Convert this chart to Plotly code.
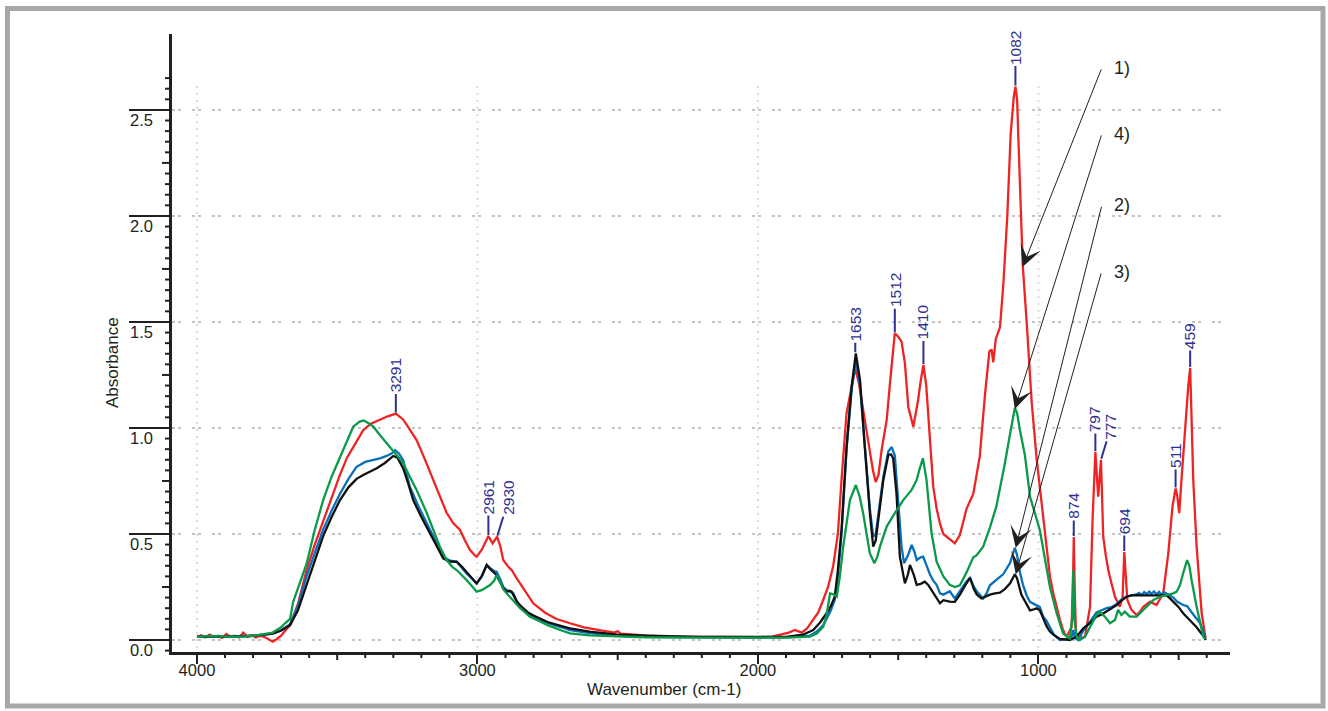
import plotly.graph_objects as go

# ---------------- data ----------------
red_wn = [4000, 3985, 3970, 3955, 3940, 3925, 3910, 3895, 3880, 3865, 3850, 3835, 3820, 3805, 3790,
          3775, 3760, 3745, 3730, 3715, 3700, 3685, 3668, 3640, 3609, 3580, 3550, 3520, 3490, 3465,
          3443, 3420, 3407, 3380, 3348, 3320, 3291, 3265, 3240, 3217, 3190, 3158, 3130, 3110, 3086,
          3062, 3045, 3027, 3010, 3003, 2985, 2970, 2961, 2946, 2930, 2918, 2908, 2890, 2878, 2860,
          2848, 2825, 2801, 2760, 2720, 2670, 2620, 2560, 2510, 2500, 2490, 2440, 2400, 2300, 2200,
          2100, 2000, 1950, 1922, 1890, 1868, 1844, 1825, 1803, 1785, 1767, 1750, 1732, 1715, 1702,
          1684, 1666, 1653, 1640, 1630, 1615, 1600, 1590, 1580, 1570, 1559, 1541, 1530, 1520, 1512,
          1500, 1488, 1476, 1464, 1446, 1429, 1420, 1410, 1400, 1393, 1387, 1375, 1363, 1351, 1339,
          1316, 1298, 1280, 1256, 1232, 1209, 1191, 1175, 1167, 1161, 1152, 1137, 1125, 1111, 1099,
          1088, 1082, 1076, 1072, 1063, 1056, 1042, 1024, 1006, 995, 983, 971, 959, 947, 935,
          923, 914, 905, 896, 888, 882, 877, 874, 870, 866, 852, 834, 816, 807, 797,
          787, 777, 769, 760, 751, 740, 727, 710, 700, 694, 688, 683, 668, 650, 640,
          626, 602, 579, 555, 537, 522, 511, 505, 498, 490, 478, 466, 459, 453, 448,
          436, 418, 404]
red_abs = [0.015, 0.022, 0.012, 0.025, 0.015, 0.020, 0.010, 0.028, 0.014, 0.020, 0.012, 0.035, 0.015, 0.022, 0.012,
           0.020, 0.015, 0.002, -0.008, 0.005, 0.020, 0.045, 0.070, 0.170, 0.330, 0.450, 0.560, 0.670, 0.780, 0.860,
           0.912, 0.960, 0.990, 1.020, 1.040, 1.055, 1.068, 1.040, 0.990, 0.943, 0.860, 0.755, 0.660, 0.600, 0.550,
           0.519, 0.470, 0.425, 0.400, 0.393, 0.425, 0.470, 0.490, 0.456, 0.487, 0.440, 0.377, 0.345, 0.330, 0.290,
           0.267, 0.220, 0.173, 0.130, 0.100, 0.079, 0.060, 0.045, 0.035, 0.042, 0.030, 0.025, 0.020, 0.016, 0.014,
           0.013, 0.013, 0.016, 0.024, 0.035, 0.047, 0.035, 0.055, 0.094, 0.130, 0.190, 0.250, 0.346, 0.500, 0.755,
           1.070, 1.195, 1.280, 1.210, 1.130, 1.000, 0.880, 0.800, 0.745, 0.780, 0.896, 1.038, 1.200, 1.350, 1.447,
           1.430, 1.407, 1.305, 1.100, 1.006, 1.132, 1.220, 1.297, 1.200, 1.070, 0.940, 0.723, 0.620, 0.550, 0.500,
           0.475, 0.456, 0.495, 0.620, 0.690, 0.867, 1.150, 1.360, 1.370, 1.310, 1.420, 1.476, 1.680, 2.000, 2.385,
           2.560, 2.610, 2.550, 2.385, 2.030, 1.770, 1.500, 1.120, 0.850, 0.720, 0.560, 0.410, 0.300, 0.220, 0.150,
           0.094, 0.055, 0.024, 0.025, 0.050, 0.060, 0.250, 0.486, 0.200, 0.033, 0.008, 0.016, 0.157, 0.566, 0.887,
           0.676, 0.850, 0.487, 0.400, 0.330, 0.270, 0.204, 0.157, 0.200, 0.415, 0.300, 0.189, 0.142, 0.118, 0.130,
           0.157, 0.181, 0.165, 0.220, 0.409, 0.630, 0.715, 0.680, 0.598, 0.755, 0.990, 1.195, 1.283, 0.990, 0.755,
           0.440, 0.126, 0.008]

blue_wn = [4000, 3950, 3900, 3850, 3800, 3760, 3730, 3700, 3668, 3640, 3609, 3580, 3550, 3520, 3490,
           3460, 3431, 3400, 3371, 3345, 3324, 3305, 3294, 3280, 3265, 3241, 3210, 3181, 3150, 3122,
           3100, 3074, 3055, 3039, 3020, 3003, 2985, 2967, 2955, 2940, 2932, 2920, 2908, 2896, 2880,
           2872, 2855, 2837, 2800, 2750, 2700, 2670, 2600, 2500, 2400, 2200, 2000, 1900, 1815, 1790,
           1767, 1755, 1740, 1726, 1715, 1702, 1684, 1666, 1651, 1636, 1619, 1601, 1589, 1580, 1571,
           1553, 1535, 1523, 1512, 1506, 1494, 1488, 1479, 1465, 1452, 1443, 1434, 1420, 1411, 1400,
           1387, 1375, 1363, 1351, 1339, 1316, 1298, 1280, 1260, 1244, 1230, 1220, 1197, 1185, 1173,
           1149, 1125, 1101, 1090, 1084, 1076, 1066, 1055, 1042, 1030, 1015, 1006, 995, 983, 971,
           959, 947, 935, 923, 905, 890, 882, 876, 870, 858, 840, 816, 793, 775, 757,
           740, 721, 705, 686, 668, 650, 641, 632, 623, 614, 605, 597, 588, 579, 570,
           561, 552, 543, 530, 519, 505, 495, 484, 470, 460, 448, 436, 424, 412, 404]
blue_abs = [0.015, 0.018, 0.015, 0.017, 0.020, 0.025, 0.030, 0.045, 0.075, 0.160, 0.300, 0.410, 0.520, 0.610, 0.690,
            0.760, 0.817, 0.840, 0.849, 0.858, 0.868, 0.880, 0.896, 0.880, 0.849, 0.723, 0.630, 0.550, 0.470, 0.393,
            0.375, 0.369, 0.340, 0.314, 0.290, 0.267, 0.300, 0.354, 0.340, 0.325, 0.322, 0.290, 0.250, 0.236, 0.225,
            0.220, 0.170, 0.142, 0.110, 0.080, 0.060, 0.047, 0.032, 0.020, 0.015, 0.012, 0.011, 0.012, 0.020, 0.040,
            0.070, 0.100, 0.140, 0.190, 0.300, 0.500, 0.900, 1.180, 1.320, 1.200, 0.900, 0.620, 0.487, 0.500, 0.590,
            0.770, 0.890, 0.910, 0.870, 0.750, 0.550, 0.440, 0.362, 0.400, 0.448, 0.420, 0.377, 0.390, 0.393, 0.350,
            0.310, 0.280, 0.260, 0.220, 0.214, 0.230, 0.196, 0.230, 0.270, 0.293, 0.250, 0.230, 0.196, 0.220, 0.258,
            0.285, 0.311, 0.364, 0.410, 0.435, 0.400, 0.320, 0.260, 0.210, 0.180, 0.170, 0.165, 0.155, 0.110, 0.090,
            0.060, 0.030, 0.012, 0.000, 0.003, 0.010, 0.016, 0.047, 0.010, 0.000, 0.045, 0.087, 0.130, 0.140, 0.150,
            0.155, 0.170, 0.190, 0.205, 0.210, 0.215, 0.222, 0.212, 0.226, 0.216, 0.228, 0.218, 0.229, 0.215, 0.227,
            0.214, 0.226, 0.218, 0.210, 0.200, 0.180, 0.172, 0.165, 0.160, 0.140, 0.120, 0.100, 0.080, 0.040, 0.000]

black_wn = [4000, 3950, 3900, 3850, 3800, 3760, 3730, 3700, 3668, 3640, 3609, 3580, 3550, 3520, 3490,
            3460, 3431, 3407, 3380, 3359, 3330, 3310, 3300, 3285, 3265, 3245, 3229, 3200, 3169, 3140,
            3122, 3100, 3074, 3055, 3039, 3020, 3003, 2985, 2967, 2955, 2940, 2935, 2920, 2908, 2896,
            2885, 2878, 2860, 2845, 2820, 2800, 2750, 2700, 2670, 2600, 2500, 2400, 2200, 2000, 1900,
            1840, 1803, 1780, 1755, 1740, 1726, 1715, 1702, 1684, 1666, 1651, 1636, 1619, 1601, 1589,
            1580, 1571, 1553, 1535, 1525, 1518, 1506, 1494, 1476, 1465, 1458, 1445, 1434, 1420, 1405,
            1393, 1381, 1363, 1351, 1339, 1316, 1298, 1280, 1260, 1244, 1230, 1220, 1203, 1190, 1173,
            1155, 1137, 1120, 1101, 1084, 1076, 1061, 1042, 1030, 1015, 1006, 995, 983, 971, 959,
            947, 923, 888, 864, 840, 816, 793, 775, 757, 740, 721, 705, 686, 668, 650,
            632, 614, 597, 579, 561, 543, 530, 519, 500, 484, 466, 448, 436, 424, 412,
            404]
black_abs = [0.015, 0.016, 0.014, 0.017, 0.020, 0.025, 0.030, 0.045, 0.070, 0.140, 0.260, 0.380, 0.490, 0.580, 0.660,
             0.720, 0.760, 0.778, 0.795, 0.810, 0.835, 0.855, 0.868, 0.860, 0.810, 0.730, 0.660, 0.580, 0.503, 0.430,
             0.385, 0.370, 0.369, 0.345, 0.322, 0.290, 0.267, 0.300, 0.354, 0.335, 0.315, 0.310, 0.275, 0.245, 0.228,
             0.232, 0.228, 0.181, 0.160, 0.130, 0.115, 0.085, 0.065, 0.055, 0.040, 0.025, 0.020, 0.015, 0.015, 0.015,
             0.025, 0.047, 0.080, 0.126, 0.160, 0.204, 0.330, 0.520, 0.910, 1.195, 1.352, 1.226, 0.910, 0.598, 0.440,
             0.470, 0.566, 0.755, 0.873, 0.875, 0.857, 0.692, 0.393, 0.267, 0.310, 0.354, 0.310, 0.260, 0.265, 0.275,
             0.260, 0.236, 0.200, 0.173, 0.188, 0.181, 0.180, 0.214, 0.260, 0.293, 0.240, 0.214, 0.196, 0.205, 0.214,
             0.220, 0.223, 0.240, 0.267, 0.310, 0.290, 0.214, 0.170, 0.140, 0.145, 0.150, 0.140, 0.100, 0.065, 0.040,
             0.025, 0.005, 0.000, 0.016, 0.055, 0.079, 0.110, 0.120, 0.134, 0.150, 0.165, 0.185, 0.204, 0.210, 0.212,
             0.210, 0.210, 0.212, 0.212, 0.210, 0.210, 0.195, 0.181, 0.155, 0.126, 0.100, 0.079, 0.060, 0.039, 0.020,
             0.000]

green_wn = [4000, 3950, 3900, 3850, 3800, 3760, 3730, 3716, 3700, 3685, 3668, 3657, 3609, 3580, 3550,
            3520, 3490, 3460, 3443, 3420, 3405, 3385, 3371, 3350, 3324, 3295, 3264, 3241, 3217, 3181,
            3158, 3134, 3110, 3090, 3074, 3050, 3039, 3020, 3003, 2985, 2967, 2955, 2940, 2932, 2924,
            2908, 2896, 2872, 2855, 2848, 2830, 2813, 2780, 2750, 2700, 2670, 2600, 2500, 2400, 2200,
            2000, 1900, 1815, 1790, 1767, 1755, 1743, 1730, 1719, 1708, 1696, 1684, 1672, 1651, 1638,
            1625, 1612, 1601, 1585, 1575, 1565, 1541, 1512, 1482, 1452, 1434, 1425, 1412, 1399, 1387,
            1381, 1363, 1339, 1316, 1298, 1280, 1256, 1232, 1220, 1197, 1173, 1150, 1137, 1120, 1101,
            1090, 1084, 1076, 1066, 1048, 1030, 995, 959, 935, 912, 888, 880, 876, 872, 864,
            852, 834, 816, 800, 793, 781, 770, 763, 745, 727, 716, 704, 692, 674, 650,
            632, 614, 590, 567, 543, 519, 507, 495, 484, 470, 462, 454, 436, 412, 404]
green_abs = [0.015, 0.018, 0.016, 0.015, 0.020, 0.028, 0.035, 0.047, 0.060, 0.080, 0.100, 0.180, 0.360, 0.520, 0.660,
             0.770, 0.865, 0.960, 1.006, 1.030, 1.035, 1.020, 1.006, 0.970, 0.928, 0.880, 0.833, 0.770, 0.708, 0.600,
             0.519, 0.440, 0.377, 0.345, 0.330, 0.300, 0.283, 0.255, 0.228, 0.235, 0.250, 0.259, 0.280, 0.307, 0.290,
             0.240, 0.220, 0.185, 0.165, 0.150, 0.130, 0.110, 0.090, 0.070, 0.045, 0.031, 0.022, 0.016, 0.013, 0.011,
             0.010, 0.011, 0.016, 0.030, 0.063, 0.120, 0.220, 0.215, 0.204, 0.300, 0.440, 0.560, 0.660, 0.731, 0.680,
             0.598, 0.500, 0.409, 0.362, 0.390, 0.440, 0.535, 0.598, 0.660, 0.708, 0.755, 0.800, 0.857, 0.755, 0.600,
             0.503, 0.370, 0.300, 0.260, 0.250, 0.258, 0.320, 0.390, 0.400, 0.440, 0.530, 0.630, 0.710, 0.830, 0.973,
             1.060, 1.095, 1.070, 0.990, 0.870, 0.676, 0.519, 0.250, 0.126, 0.031, 0.008, 0.100, 0.330, 0.100, 0.016,
             0.000, 0.016, 0.063, 0.100, 0.118, 0.134, 0.120, 0.110, 0.079, 0.094, 0.142, 0.118, 0.134, 0.110, 0.110,
             0.134, 0.157, 0.189, 0.204, 0.212, 0.220, 0.228, 0.260, 0.315, 0.377, 0.350, 0.283, 0.157, 0.016, 0.005]

# peak labels (wavenumber, absorbance of the labelled peak)
peak_wn = [3291, 2961, 2930, 1653, 1512, 1410, 1082, 874, 797, 777, 694, 511, 459]
peak_abs = [1.068, 0.490, 0.487, 1.352, 1.447, 1.297, 2.610, 0.486, 0.887, 0.850, 0.415, 0.715, 1.283]

# curve labels 1)-4) with arrows
curve_labels = ["1)", "4)", "2)", "3)"]
arrow_tip_wn = [1056, 1084, 1081, 1081]
arrow_tip_abs = [1.76, 1.09, 0.435, 0.31]
arrow_tail_wn = [774, 774, 774, 775]
arrow_tail_abs = [2.698, 2.387, 2.05, 1.736]

# axis ticks
x_label_ticks = [4000, 3000, 2000, 1000]
x_tick_text = ["4000", "3000", "2000", "1000"]
x_half_ticks = [3500, 2500, 1500, 500]
x_minor_ticks = [v for v in range(4000, 399, -100) if v % 500 != 0]
y_ticks = [0.0, 0.5, 1.0, 1.5, 2.0, 2.5]
y_tick_text = ["0.0", "0.5", "1.0", "1.5", "2.0", "2.5"]
y_mid_ticks = [0.25, 0.75, 1.25, 1.75, 2.25]
y_minor_ticks = [round(-0.05 + 0.05 * i, 2) for i in range(55)]
y_minor_ticks = [v for v in y_minor_ticks if abs(v * 4 - round(v * 4)) > 1e-6]
v_grid_span = [-0.035, 2.63]

# ---------------- styling ----------------
FONT = "Liberation Sans, Arial, Helvetica, sans-serif"
INK = "#231f20"
LABEL_BLUE = "#2e3192"
colors = {"red": "#ee2424", "blue": "#0a6fba", "black": "#111111", "green": "#0b9a4a"}
x_range = [4089, 317]
y_range = [-0.0566, 2.858]
PLOT_W, PLOT_H = 1058, 618

fig = go.Figure()
for key, wn, ab in [("red", red_wn, red_abs), ("blue", blue_wn, blue_abs),
                    ("black", black_wn, black_abs), ("green", green_wn, green_abs)]:
    fig.add_trace(go.Scatter(x=wn, y=ab, mode="lines", name=key, showlegend=False,
                             line=dict(color=colors[key], width=2.3)))

fig.update_layout(
    width=1328, height=711,
    margin=dict(l=172, r=98, t=34, b=59),
    paper_bgcolor="white", plot_bgcolor="white",
    font=dict(family=FONT, size=16, color=INK),
    xaxis=dict(range=x_range, showline=True, linecolor=INK, linewidth=2.5,
               ticks="outside", tickvals=x_label_ticks, ticktext=x_tick_text,
               ticklen=9, tickwidth=2, tickcolor=INK, showgrid=False, zeroline=False,
               tickfont=dict(size=16.5, color=INK), ticklabelstandoff=-8),
    yaxis=dict(range=y_range, showline=True, linecolor=INK, linewidth=2.5,
               ticks="outside", tickvals=y_ticks, ticktext=y_tick_text, ticklen=40, tickwidth=2,
               tickcolor=INK, showgrid=True, gridcolor="#c4c4c4", gridwidth=1.6,
               griddash="3px,3px,3px,11px", zeroline=False,
               tickfont=dict(size=16.5, color=INK), ticklabelshift=10, ticklabelstandoff=-27),
)

shapes = []
# vertical dotted grid lines at the labelled wavenumbers
for v in x_label_ticks:
    shapes.append(dict(type="line", xref="x", yref="y", x0=v, x1=v, y0=v_grid_span[0], y1=v_grid_span[1],
                       line=dict(color="#b9b9b9", width=2, dash="1px,6px"), layer="below"))
for v in x_half_ticks:
    shapes.append(dict(type="line", xref="x", yref="paper", x0=v, x1=v, y0=0, y1=-8.0 / PLOT_H,
                       line=dict(color=INK, width=2)))
for v in x_minor_ticks:
    shapes.append(dict(type="line", xref="x", yref="paper", x0=v, x1=v, y0=0, y1=-6.0 / PLOT_H,
                       line=dict(color=INK, width=2)))
for v in y_mid_ticks:
    shapes.append(dict(type="line", xref="paper", yref="y", x0=0, x1=-10.0 / PLOT_W, y0=v, y1=v,
                       line=dict(color=INK, width=2)))
for v in y_minor_ticks:
    shapes.append(dict(type="line", xref="paper", yref="y", x0=0, x1=-7.0 / PLOT_W, y0=v, y1=v,
                       line=dict(color=INK, width=2)))
# grey frame around the whole picture
shapes.append(dict(type="rect", xref="paper", yref="paper",
                   x0=-0.1555, x1=1.0879, y0=-0.0874, y1=1.0413,
                   line=dict(color="#a8a8a8", width=5), fillcolor="rgba(0,0,0,0)", layer="above"))
fig.update_layout(shapes=shapes)

annotations = []
# axis titles
annotations.append(dict(text="Absorbance", xref="paper", yref="paper", x=-0.0567, y=0.4676,
                        xanchor="center", yanchor="middle",
                        textangle=-90, showarrow=False, font=dict(size=17, color=INK, family=FONT)))
annotations.append(dict(text="Wavenumber (cm-1)", xref="paper", yref="paper", x=0.4655, y=-0.0599,
                        xanchor="center", yanchor="middle",
                        showarrow=False, font=dict(size=17, color=INK, family=FONT)))

# peak labels
label_ay = [-38, -39, -39, -29, -43, -43, -39, -31, -33, -33, -31, -33, -32]
label_ax = [0, 0, 12, 0, 0, 0, 0, 0, 0, 10, 0, 0, 0]
for wn, ab, ax, ay in zip(peak_wn, peak_abs, label_ax, label_ay):
    annotations.append(dict(x=wn, y=ab, xref="x", yref="y", text=str(wn), textangle=-90,
                            showarrow=True, arrowhead=0, arrowwidth=2, arrowcolor=LABEL_BLUE,
                            ax=ax, ay=ay, standoff=1,
                            font=dict(size=15.5, color=LABEL_BLUE, family=FONT)))

# curve number arrows
for lab, tx, ty, sx, sy in zip(curve_labels, arrow_tip_wn, arrow_tip_abs, arrow_tail_wn, arrow_tail_abs):
    annotations.append(dict(x=tx, y=ty, xref="x", yref="y", ax=sx, ay=sy, axref="x", ayref="y",
                            text="", showarrow=True, arrowhead=3, arrowsize=3.6, arrowwidth=1,
                            arrowcolor=INK))
    annotations.append(dict(x=sx, y=sy, xref="x", yref="y", text=lab, showarrow=False,
                            xanchor="left", xshift=10, font=dict(size=18, color=INK, family=FONT)))

fig.update_layout(annotations=annotations)

fig.write_html("out.html", config={"displayModeBar": False},
               post_script="document.body.style.margin='0px';")
